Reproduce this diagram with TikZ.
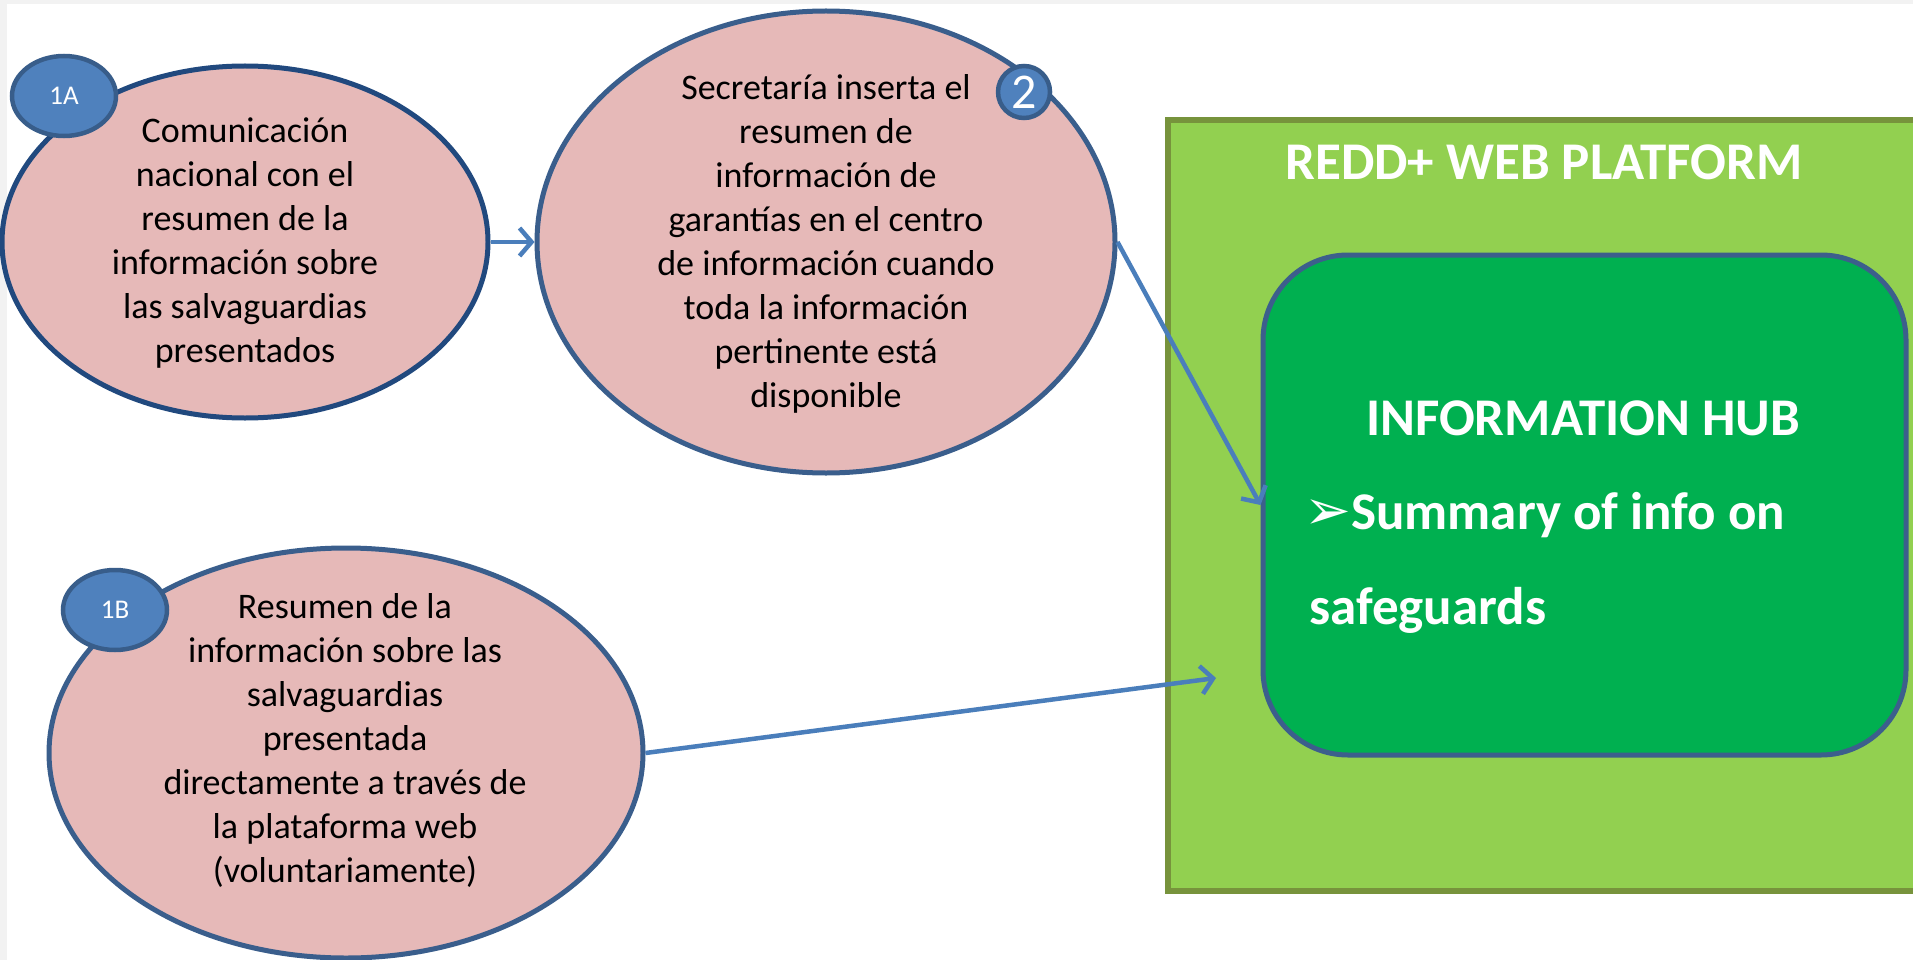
\documentclass[tikz,border=0pt]{standalone}
\usepackage{fontspec}
\setmainfont{Carlito}
\newfontfamily\dejavu{DejaVu Sans}
\usetikzlibrary{shapes.geometric,arrows.meta}
\definecolor{bggray}{HTML}{F2F2F2}
\definecolor{pinkfill}{HTML}{E6B9B8}
\definecolor{ellborder}{HTML}{3A5E8C}
\definecolor{ellborderdark}{HTML}{21497E}
\definecolor{badgefill}{HTML}{4F81BD}
\definecolor{badgeborder}{HTML}{385D8A}
\definecolor{arrowblue}{HTML}{4A7EBB}
\definecolor{platgreen}{HTML}{92D050}
\definecolor{platborder}{HTML}{77933C}
\definecolor{hubgreen}{HTML}{00B050}
\definecolor{hubborder}{HTML}{3C5F8C}
\begin{document}
\begin{tikzpicture}[x=1pt,y=-1pt,
  ellbox/.style={ellipse, draw=ellborder, fill=pinkfill, line width=5pt, inner sep=0pt},
  elltext/.style={align=center, inner sep=0pt, font=\fontsize{36}{44}\selectfont, text=black},
  badge/.style={ellipse, draw=badgeborder, fill=badgefill, line width=4.5pt, inner sep=0pt, text=white},
  conn/.style={draw=arrowblue, line width=4.5pt, -{Straight Barb[length=12pt,width=28pt,line width=4.5pt]}},
  platformbox/.style={rectangle, draw=platborder, fill=platgreen, line width=5.5pt, inner sep=0pt},
  hubbox/.style={rectangle, rounded corners=85pt, draw=hubborder, fill=hubgreen, line width=5pt, inner sep=0pt},
  whitebold/.style={text=white, font=\fontsize{53}{64}\selectfont\bfseries, inner sep=0pt}
]
\useasboundingbox (0,0) rectangle (1913,960);
\fill[white] (0,0) rectangle (1913,960);
\fill[bggray] (0,0) rectangle (1913,4);
\fill[bggray] (0,0) rectangle (7,960);

% platform and hub
\begin{scope}
\clip (0,0) rectangle (1913,960);
\node[platformbox, minimum width=770pt, minimum height=771pt] (plat) at (1553,505.5) {};
\end{scope}
\node[whitebold, anchor=base] (title) at (1544,179) {REDD+ WEB PLATFORM};
\node[hubbox, minimum width=643pt, minimum height=500pt] (hub) at (1584.5,505) {};
\node[whitebold, anchor=base] (hubtitle) at (1583,435) {INFORMATION HUB};
\node[whitebold, anchor=base west] (item) at (1304,529) {{\dejavu\fontsize{56}{64}\selectfont\mdseries ➢}Summary of info on};
\node[whitebold, anchor=base west] (item2) at (1309,624) {safeguards};

% ellipses
\node[ellbox, draw=ellborderdark, minimum width=486pt, minimum height=352pt] (e1a) at (245,242) {};
\node[elltext] (t1a) at (245,243) {Comunicación\\nacional con el\\resumen de la\\información sobre\\las salvaguardias\\presentados};
\node[ellbox, minimum width=578pt, minimum height=462pt] (e2) at (826,242) {};
\node[elltext] (t2) at (826,244) {Secretaría inserta el\\resumen de\\información de\\garantías en el centro\\de información cuando\\toda la información\\pertinente está\\disponible};
\node[ellbox, minimum width=594pt, minimum height=410pt] (e1b) at (346,753) {};
\node[elltext] (t1b) at (345,740) {Resumen de la\\información sobre las\\salvaguardias\\presentada\\directamente a través de\\la plataforma web\\(voluntariamente)};

% badges
\node[badge, minimum width=104pt, minimum height=80pt, font=\fontsize{27}{32}\selectfont] (b1a) at (64,96) {1A};
\node[badge, minimum width=52pt, minimum height=52pt, font=\fontsize{50}{56}\selectfont] (b2) at (1024,92) {2};
\node[badge, minimum width=104pt, minimum height=80pt, font=\fontsize{27}{32}\selectfont] (b1b) at (115,610) {1B};

% connectors
\coordinate (c1b) at (1216,678);
\draw[conn] (e1a.east) -- (e2.west);
\draw[conn] (e2.east) -- (hub.west);
\draw[conn] (e1b.east) -- (c1b);
\end{tikzpicture}
\end{document}
